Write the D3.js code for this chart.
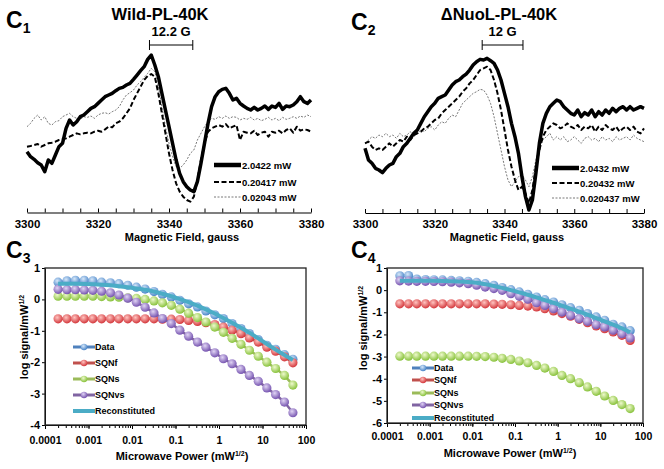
<!DOCTYPE html>
<html>
<head>
<meta charset="utf-8">
<script src="https://cdn.jsdelivr.net/npm/d3@7"></script>
<style>
body { margin: 0; background: #fff; }
svg text { font-family: Arial, "Liberation Sans", sans-serif; font-weight: bold; fill: #000; }
</style>
</head>
<body>
<div id="graph"></div>
<script>
// EPR spectra, field sampled every 1 G
var field = d3.range(3300, 3381, 1);
var fieldTicks = [3300, 3320, 3340, 3360, 3380];

// C1 wild type, signal in arbitrary units
var wildHigh = [-55,-70,-78,-88,-95,-115,-80,-90,-65,-40,
    -30,15,40,25,35,50,55,65,75,80,
    90,100,110,115,120,128,135,138,145,150,
    162,175,188,200,222,235,205,170,120,70,
    20,-30,-80,-120,-145,-160,-170,-175,-145,-90,
    -30,30,80,110,125,132,135,120,100,105,
    90,82,75,70,78,70,75,82,72,82,
    78,90,72,82,80,85,95,110,95,90,
    100];
var wildMid = [-40,-38,-35,-32,-40,-35,-30,-28,-25,-20,
    -18,-15,-10,-5,0,-3,0,2,0,5,
    8,5,12,20,18,30,35,45,60,75,
    100,120,140,160,172,178,170,120,60,0,
    -60,-110,-150,-175,-190,-200,-205,-190,-140,-80,
    -30,5,15,20,25,20,28,15,20,25,
    -20,5,2,0,8,-5,2,5,-10,5,
    2,8,0,10,15,2,20,8,12,10,
    5];
var wildLow = [20,30,45,55,40,50,30,25,35,38,
    50,55,60,50,45,42,50,48,52,45,
    55,60,62,58,65,70,80,100,115,122,
    130,145,155,168,180,195,185,140,80,20,
    -30,-70,-100,-105,-95,-80,-60,-50,-20,0,
    20,35,45,42,50,45,52,45,50,48,
    40,45,42,48,40,45,38,42,48,40,
    45,38,48,42,45,50,45,52,48,55,
    50];
var wildLabels = ["2.0422 mW", "0.20417 mW", "0.02043 mW"];
var wildBar = [3334.5, 3346.7];

// C2 dNuoL
var nuolHigh = [-45,-80,-90,-105,-110,-118,-105,-95,-90,-70,
    -60,-40,-30,-15,0,10,30,50,65,80,
    90,105,110,115,130,145,155,160,170,178,
    190,205,215,222,220,225,218,210,190,160,
    120,80,30,-10,-60,-130,-190,-230,-200,-120,
    -30,30,60,80,90,100,95,80,70,60,
    55,70,50,62,55,70,50,65,55,70,
    60,75,65,75,80,70,80,70,75,80,
    75];
var nuolMid = [-30,-25,-40,-50,-45,-50,-40,-30,-40,-30,
    -20,-25,-10,-20,-5,0,5,15,20,30,
    40,45,60,70,80,90,100,110,125,135,
    150,160,175,190,195,200,190,160,120,70,
    10,-50,-100,-140,-170,-160,-180,-210,-170,-100,
    -50,-10,10,20,30,25,15,20,30,20,
    15,25,10,20,15,25,5,20,10,25,
    15,10,20,5,15,20,10,20,5,0,
    15];
var nuolLow = [-30,-20,-10,-15,-5,-10,0,-10,-5,-15,
    0,-10,-5,5,-10,0,10,5,15,20,
    10,25,35,30,45,55,50,70,90,100,
    110,120,125,132,130,115,90,50,0,-50,
    -100,-140,-160,-145,-130,-125,-140,-160,-130,-80,
    -40,-20,-10,0,-20,-10,-20,-10,-25,-20,
    -10,-20,-30,-15,-10,-20,-15,-25,-10,-20,
    -15,-25,-10,-20,-15,-10,-20,-5,-15,-20,
    -25];
var nuolLabels = ["2.0432 mW", "0.20432 mW", "0.020437 mW"];
var nuolBar = [3333.6, 3345.3];

// power saturation, microwave power (mW^1/2)
var power = [0.0002, 0.00032, 0.0005, 0.0008, 0.00126, 0.002, 0.0032, 0.005, 0.008, 0.0126,
    0.02, 0.032, 0.05, 0.08, 0.126, 0.2, 0.32, 0.5, 0.8, 1.26,
    2, 3.2, 5, 8, 12.6, 20, 32, 50];

// C3 log signal
var c3Data = [0.55, 0.59, 0.61, 0.61, 0.59, 0.55, 0.53, 0.50, 0.45, 0.39,
    0.33, 0.25, 0.16, 0.08, -0.03, -0.14, -0.24, -0.37, -0.49, -0.61,
    -0.77, -0.93, -1.09, -1.28, -1.46, -1.59, -1.76, -1.91];
var c3SQNf = [-0.62, -0.62, -0.62, -0.62, -0.62, -0.62, -0.62, -0.62, -0.62, -0.62,
    -0.62, -0.62, -0.63, -0.63, -0.64, -0.67, -0.70, -0.74, -0.80, -0.88,
    -0.98, -1.09, -1.23, -1.36, -1.52, -1.65, -1.83, -2.02];
var c3SQNs = [0.10, 0.10, 0.10, 0.10, 0.10, 0.09, 0.08, 0.07, 0.05, 0.03,
    0.00, -0.05, -0.11, -0.19, -0.31, -0.44, -0.58, -0.72, -0.88, -1.05,
    -1.24, -1.43, -1.62, -1.81, -2.00, -2.20, -2.42, -2.73];
var c3SQNvs = [0.32, 0.31, 0.31, 0.30, 0.29, 0.26, 0.21, 0.14, 0.04, -0.09,
    -0.25, -0.43, -0.61, -0.77, -0.98, -1.17, -1.36, -1.52, -1.70, -1.89,
    -2.05, -2.23, -2.42, -2.61, -2.82, -3.03, -3.27, -3.61];
var c3Recon = [0.50, 0.50, 0.50, 0.49, 0.48, 0.47, 0.45, 0.42, 0.39, 0.35,
    0.31, 0.25, 0.18, 0.10, 0.01, -0.09, -0.20, -0.32, -0.45, -0.59,
    -0.74, -0.90, -1.06, -1.24, -1.42, -1.60, -1.77, -1.93];

// C4 log signal
var c4Data = [0.65, 0.66, 0.50, 0.48, 0.47, 0.46, 0.44, 0.42, 0.40, 0.35,
    0.29, 0.22, 0.12, 0.02, -0.08, -0.19, -0.31, -0.43, -0.54, -0.66,
    -0.79, -0.91, -1.06, -1.21, -1.36, -1.54, -1.66, -1.83];
var c4SQNf = [-0.62, -0.62, -0.62, -0.62, -0.62, -0.62, -0.62, -0.62, -0.62, -0.62,
    -0.62, -0.63, -0.64, -0.66, -0.69, -0.72, -0.76, -0.84, -0.94, -1.06,
    -1.18, -1.32, -1.47, -1.62, -1.74, -1.89, -2.04, -2.27];
var c4SQNs = [-2.98, -2.98, -2.98, -2.98, -2.98, -2.98, -2.98, -2.98, -2.98, -2.99,
    -3.00, -3.03, -3.08, -3.13, -3.20, -3.28, -3.40, -3.52, -3.67, -3.85,
    -4.00, -4.18, -4.37, -4.57, -4.78, -4.98, -5.17, -5.35];
var c4SQNvs = [0.42, 0.41, 0.40, 0.40, 0.39, 0.38, 0.36, 0.33, 0.29, 0.22,
    0.14, 0.07, -0.01, -0.16, -0.28, -0.41, -0.57, -0.69, -0.84, -0.99,
    -1.14, -1.29, -1.41, -1.56, -1.66, -1.81, -1.97, -2.16];
var c4Recon = [0.42, 0.42, 0.42, 0.42, 0.42, 0.41, 0.40, 0.39, 0.37, 0.33,
    0.27, 0.19, 0.10, 0.00, -0.10, -0.21, -0.33, -0.45, -0.57, -0.70,
    -0.83, -0.97, -1.11, -1.26, -1.41, -1.56, -1.72, -1.90];

var satNames = ["Data", "SQNf", "SQNs", "SQNvs", "Reconstituted"];
var powerTicks = [0.0001, 0.001, 0.01, 0.1, 1, 10, 100];
var c3Ticks = [1, 0, -1, -2, -3, -4];
var c4Ticks = [1, 0, -1, -2, -3, -4, -5, -6];

var width = 664, height = 469;

var svg = d3.select("#graph")
    .append("svg")
    .attr("width", width)
    .attr("height", height);

var defs = svg.append("defs");

// sphere look of the excel markers
var balls = {
    blue: ["#d6e7f9", "#4a86c9", "#4f81bd"],
    red: ["#ffc4c0", "#d3363b", "#c0504d"],
    green: ["#eef9cc", "#88c23c", "#9bbb59"],
    purple: ["#e0d4f4", "#7654b0", "#8064a2"]
};
Object.keys(balls).forEach(function (k) {
    var gr = defs.append("radialGradient")
        .attr("id", "ball-" + k)
        .attr("cx", "40%").attr("cy", "35%").attr("r", "65%");
    gr.append("stop").attr("offset", "0%").attr("stop-color", balls[k][0]);
    gr.append("stop").attr("offset", "100%").attr("stop-color", balls[k][1]);
});

var lineStyles = [
    {w: 3.5, dash: null, c: "#000"},
    {w: 2, dash: "5,2.5", c: "#000"},
    {w: 0.8, dash: "2,1.5", c: "#555"}
];

function panelLabel(x, y, sub) {
    var t = svg.append("text")
        .attr("x", x).attr("y", y)
        .style("font-size", "23px")
        .text("C");
    t.append("tspan")
        .attr("dy", 5)
        .style("font-size", "14px")
        .text(sub);
}

// spectrum panel
function spectrum(o) {
    var x = d3.scaleLinear().domain([3300, 3380]).range([o.left, o.right]);
    var y = d3.scaleLinear().domain([-200, 200]).range([200, 66.7]);
    var g = svg.append("g");

    var line = d3.line()
        .x(function (d, i) { return x(field[i]); })
        .y(function (d) { return y(d); });

    // low power first, thick line last on top
    [2, 1, 0].forEach(function (k) {
        g.append("path")
            .datum(o.series[k])
            .attr("fill", "none")
            .attr("stroke", lineStyles[k].c)
            .attr("stroke-width", lineStyles[k].w)
            .attr("stroke-dasharray", lineStyles[k].dash)
            .attr("stroke-linejoin", "round")
            .attr("d", line);
    });

    var axis = d3.axisBottom(x)
        .tickValues(d3.range(3300, 3381, 5))
        .tickSizeInner(-4)
        .tickSizeOuter(0)
        .tickPadding(7)
        .tickFormat(function (d) { return fieldTicks.indexOf(d) >= 0 ? d : ""; });

    var ax = g.append("g")
        .attr("transform", "translate(0," + o.axisY + ")")
        .call(axis);
    ax.selectAll("text").style("font-size", "11.5px").style("font-family", "Arial, 'Liberation Sans', sans-serif");
    ax.select(".domain").attr("stroke", "#000").attr("stroke-width", 1.2);
    ax.selectAll(".tick line").attr("stroke", "#000");

    g.append("text")
        .attr("x", o.fieldLabelX).attr("y", 241)
        .attr("text-anchor", "middle")
        .style("font-size", "11px")
        .text("Magnetic Field, gauss");

    g.append("text")
        .attr("x", o.titleX).attr("y", 20)
        .attr("text-anchor", "middle")
        .style("font-size", "16.5px")
        .text(o.title);

    // line width bar
    var b0 = x(o.bar[0]), b1 = x(o.bar[1]);
    g.append("path")
        .attr("d", "M" + b0 + ",40V50M" + b0 + ",45H" + b1 + "M" + b1 + ",40V50")
        .attr("stroke", "#000").attr("stroke-width", 1).attr("fill", "none");
    g.append("text")
        .attr("x", (b0 + b1) / 2).attr("y", 36)
        .attr("text-anchor", "middle")
        .style("font-size", "13px")
        .text(o.barLabel);

    // legend
    o.labels.forEach(function (lab, k) {
        var ly = o.legendY[k];
        g.append("line")
            .attr("x1", o.legendX).attr("x2", o.legendX + 27)
            .attr("y1", ly).attr("y2", ly)
            .attr("stroke", lineStyles[k].c)
            .attr("stroke-width", k === 0 ? 4.5 : lineStyles[k].w)
            .attr("stroke-dasharray", lineStyles[k].dash);
        g.append("text")
            .attr("x", o.legendX + 28).attr("y", ly + 3.5)
            .style("font-size", "9.5px")
            .text(lab);
    });
}

// saturation panel
function saturation(o) {
    var x = d3.scaleLog().domain([0.0001, 100]).range([o.left, o.right]);
    var y = d3.scaleLinear().domain(o.yDomain).range([o.bottom, o.top]);
    var g = svg.append("g");

    // minor ticks
    g.append("g")
        .attr("transform", "translate(0," + o.bottom + ")")
        .call(d3.axisBottom(x).tickValues(x.ticks()).tickSize(3).tickFormat(""))
        .call(function (s) { s.select(".domain").remove(); });

    var xa = g.append("g")
        .attr("transform", "translate(0," + o.bottom + ")")
        .call(d3.axisBottom(x).tickValues(powerTicks).tickSizeInner(4).tickSizeOuter(0)
            .tickPadding(o.xPad).tickFormat(d3.format("~g")));
    xa.selectAll("text").style("font-size", "10.5px").style("font-family", "Arial, 'Liberation Sans', sans-serif");

    var ya = g.append("g")
        .attr("transform", "translate(" + o.left + ",0)")
        .call(d3.axisLeft(y).tickValues(o.yTicks).tickSizeInner(3).tickSizeOuter(0)
            .tickPadding(2).tickFormat(function (d) { return String(d); }));
    ya.selectAll("text").style("font-size", "11px").style("font-family", "Arial, 'Liberation Sans', sans-serif");

    g.selectAll(".domain, .tick line").attr("stroke", "#000");

    // plot area border
    g.append("rect")
        .attr("x", o.left).attr("y", o.top)
        .attr("width", o.right - o.left).attr("height", o.bottom - o.top)
        .attr("fill", "none").attr("stroke", "#222").attr("stroke-width", 1.3);

    var line = d3.line()
        .x(function (d, i) { return x(power[i]); })
        .y(function (d) { return y(d); });

    var keys = ["blue", "red", "green", "purple"];
    o.series.slice(0, 4).forEach(function (s, k) {
        g.append("path").datum(s)
            .attr("fill", "none")
            .attr("stroke", balls[keys[k]][2])
            .attr("stroke-width", 2.5)
            .attr("d", line);
        g.selectAll(null).data(s).enter().append("circle")
            .attr("cx", function (d, i) { return x(power[i]); })
            .attr("cy", function (d) { return y(d); })
            .attr("r", 4.6)
            .attr("fill", "url(#ball-" + keys[k] + ")");
    });
    g.append("path").datum(o.series[4])
        .attr("fill", "none")
        .attr("stroke", "#4bacc6")
        .attr("stroke-width", 4)
        .attr("stroke-linejoin", "round")
        .attr("d", line);

    // legend
    satNames.forEach(function (name, k) {
        var ly = o.legendY[k];
        g.append("line")
            .attr("x1", o.legendX).attr("x2", o.legendX + 22)
            .attr("y1", ly).attr("y2", ly)
            .attr("stroke", k < 4 ? balls[keys[k]][2] : "#4bacc6")
            .attr("stroke-width", k < 4 ? 3 : 4);
        if (k < 4) {
            g.append("circle")
                .attr("cx", o.legendX + 11).attr("cy", ly).attr("r", 3.2)
                .attr("fill", "url(#ball-" + keys[k] + ")");
        }
        g.append("text")
            .attr("x", o.legendX + 22).attr("y", ly + 3.3)
            .style("font-size", "9px")
            .text(name);
    });

    // axis titles
    var xt = g.append("text")
        .attr("x", o.xLabelX).attr("y", o.xLabelY)
        .attr("text-anchor", "middle")
        .style("font-size", "11px")
        .text("Microwave Power (mW");
    xt.append("tspan").attr("dy", -4).style("font-size", "7px").text("1/2");
    xt.append("tspan").attr("dy", 4).text(")");

    var yt = g.append("text")
        .attr("transform", "translate(" + o.yLabelX + "," + o.yLabelY + ") rotate(-90)")
        .attr("text-anchor", "middle")
        .style("font-size", "11px")
        .text("log signal/mW");
    yt.append("tspan").attr("dy", -4).style("font-size", "7px").text("1/2");
}

spectrum({
    left: 27, right: 311, axisY: 212.5,
    series: [wildHigh, wildMid, wildLow],
    labels: wildLabels, legendX: 214, legendY: [165, 182, 197],
    title: "Wild-PL-40K", titleX: 160,
    bar: wildBar, barLabel: "12.2 G",
    fieldLabelX: 182
});

spectrum({
    left: 365, right: 644, axisY: 213,
    series: [nuolHigh, nuolMid, nuolLow],
    labels: nuolLabels, legendX: 552, legendY: [168, 183, 198],
    title: "\u0394NuoL-PL-40K", titleX: 499,
    bar: nuolBar, barLabel: "12 G",
    fieldLabelX: 507
});

saturation({
    left: 45, right: 306, top: 268, bottom: 425,
    yDomain: [-4, 1], yTicks: c3Ticks, xPad: 8,
    series: [c3Data, c3SQNf, c3SQNs, c3SQNvs, c3Recon],
    legendX: 73, legendY: [347, 363, 379, 395, 411],
    xLabelX: 182, xLabelY: 460, yLabelX: 28, yLabelY: 337
});

saturation({
    left: 387, right: 643, top: 268, bottom: 423,
    yDomain: [-6, 1], yTicks: c4Ticks, xPad: 6,
    series: [c4Data, c4SQNf, c4SQNs, c4SQNvs, c4Recon],
    legendX: 412, legendY: [368, 380, 393, 405, 418],
    xLabelX: 510, xLabelY: 457, yLabelX: 367, yLabelY: 328
});

panelLabel(6, 28, "1");
panelLabel(351, 30, "2");
panelLabel(6, 258, "3");
panelLabel(351, 258, "4");
</script>
</body>
</html>
